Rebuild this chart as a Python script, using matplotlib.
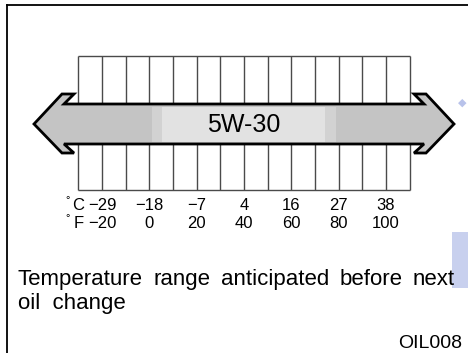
import matplotlib.pyplot as plt
from matplotlib.patches import Polygon, Rectangle

plt.rcParams['font.family'] = ['Liberation Sans', 'DejaVu Sans']

# temperature scale (every second grid line carries a label)
celsius = [-29, -18, -7, 4, 16, 27, 38]
fahrenheit = [-20, 0, 20, 40, 60, 80, 100]
grid_f = list(range(-30, 111, 10))
oil_grade = "5W-30"
grade_range_f = [1, 79]   # light band on the arrow
caption = "Temperature range anticipated before next"
caption2 = "oil change"
fig_code = "OIL008"

# x axis in degrees F, y axis in pixels (top down)
px_per_f = 2.3667
f_at_px0 = -20 - 102 / px_per_f
fig = plt.figure(figsize=(4.68, 3.53), dpi=100)
ax = fig.add_axes([0, 0, 1, 1])
ax.set_xlim(f_at_px0, f_at_px0 + 468 / px_per_f)
ax.set_ylim(353, 0)
ax.axis('off')

def fpx(px):
    # pixel offset -> degrees F
    return px / px_per_f

# frame (top and left only, rest is cut off)
ax.plot([f_at_px0 + fpx(7), f_at_px0 + fpx(470)], [5, 5], color='black', lw=1.3)
ax.plot([f_at_px0 + fpx(7), f_at_px0 + fpx(7)], [5, 360], color='black', lw=1.3)

# grid
ax.vlines(grid_f, 56, 190, color='#4a4a4a', lw=1.0)
ax.hlines([56, 190], grid_f[0], grid_f[-1], color='#4a4a4a', lw=1.0)

# double arrow
mid = (grid_f[0] + grid_f[-1]) / 2
tip, corner, barb, inner = fpx(210), fpx(182), fpx(170), fpx(180)
y_top, y_sh_top, y_c, y_sh_bot, y_bot = 94, 104, 124, 144, 153
pts = [
    (mid - tip, y_c), (mid - corner, y_top), (mid - barb, y_top), (mid - inner, y_sh_top),
    (mid + inner, y_sh_top), (mid + barb, y_top), (mid + corner, y_top), (mid + tip, y_c),
    (mid + corner, y_bot), (mid + barb, y_bot), (mid + inner, y_sh_bot),
    (mid - inner, y_sh_bot), (mid - barb, y_bot), (mid - corner, y_bot),
]
ax.add_patch(Polygon(pts, closed=True, facecolor='#c4c4c4', edgecolor='black',
                     lw=2.0, joinstyle='miter', zorder=3))

# grade band
ax.add_patch(Rectangle((grade_range_f[0], y_sh_top + 3), grade_range_f[1] - grade_range_f[0],
                       y_sh_bot - y_sh_top - 5, facecolor='#d2d2d2', edgecolor='none', zorder=4))
ax.add_patch(Rectangle((grade_range_f[0] + fpx(10), y_sh_top + 3),
                       grade_range_f[1] - grade_range_f[0] - fpx(21),
                       y_sh_bot - y_sh_top - 5, facecolor='#e2e2e2', edgecolor='none', zorder=4))
ax.text(sum(grade_range_f) / 2, y_c + 1, oil_grade, fontsize=18, ha='center', va='center', zorder=5)

# scale labels
for c, f in zip(celsius, fahrenheit):
    ax.text(f, 205, str(c).replace('-', '\u2212'), fontsize=12, ha='center', va='center')
    ax.text(f, 223, str(f).replace('-', '\u2212'), fontsize=12, ha='center', va='center')
for y, unit in [(205, 'C'), (223, 'F')]:
    ax.text(fahrenheit[0] - fpx(18), y, unit, fontsize=12, ha='right', va='center')
    ax.text(fahrenheit[0] - fpx(32), y - 5, '\u00b0', fontsize=8, ha='right', va='center')

# justified caption line
fig.canvas.draw()
renderer = fig.canvas.get_renderer()
words = caption.split()
x0, x1 = f_at_px0 + fpx(18), f_at_px0 + fpx(455)
objs = [ax.text(0, 285, w, fontsize=16, ha='left', va='baseline') for w in words]
widths = [fpx(o.get_window_extent(renderer).width) for o in objs]
gap = (x1 - x0 - sum(widths)) / (len(words) - 1)
x = x0
for o, w in zip(objs, widths):
    o.set_x(x)
    x += w + gap
ax.text(x0, 309, caption2.replace(' ', '  '), fontsize=16, ha='left', va='baseline')
ax.text(f_at_px0 + fpx(462), 343, fig_code, fontsize=14, ha='right', va='center')

# watermark bits
ax.text(f_at_px0 + fpx(462), 103, '\u25c6', fontsize=8, color='#b8c2ea', ha='center', va='center',
        family='DejaVu Sans')
ax.add_patch(Rectangle((f_at_px0 + fpx(452), 232), fpx(20), 56, facecolor='#c8d0ee', edgecolor='none', zorder=0))

fig.savefig('out.png', dpi=100)
